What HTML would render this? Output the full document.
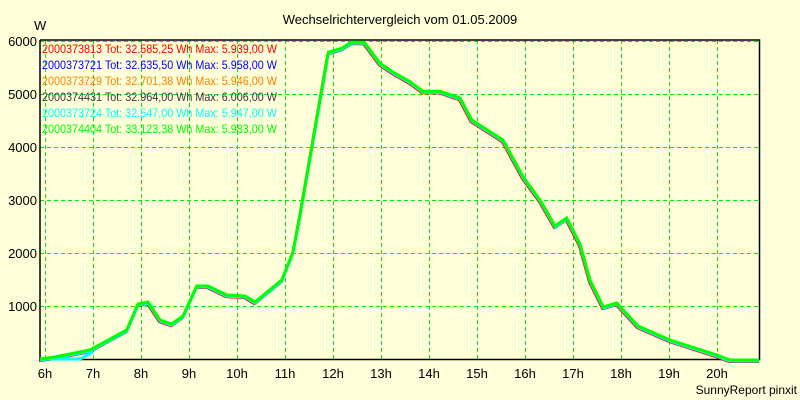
<!DOCTYPE html>
<html><head><meta charset="utf-8"><style>
html,body{margin:0;padding:0;background:#ffffd9;}
svg{display:block;font-family:"Liberation Sans",Arial,sans-serif;}
</style></head><body>
<svg width="800" height="400" viewBox="0 0 800 400" xmlns="http://www.w3.org/2000/svg">
<rect width="800" height="400" fill="#ffffd9"/>
<text x="400" y="24" font-size="13" text-anchor="middle" fill="#000">Wechselrichtervergleich vom 01.05.2009</text>
<text x="34" y="30" font-size="13" fill="#000">W</text>
<g stroke="#00ee00" stroke-width="1" stroke-dasharray="4,3" fill="none">
<line x1="40" y1="41.5" x2="759" y2="41.5"/>
<line x1="40" y1="94.5" x2="759" y2="94.5"/>
<line x1="40" y1="147.5" x2="759" y2="147.5"/>
<line x1="40" y1="200.5" x2="759" y2="200.5"/>
<line x1="40" y1="253.5" x2="759" y2="253.5"/>
<line x1="40" y1="306.5" x2="759" y2="306.5"/>
<line x1="45.5" y1="40" x2="45.5" y2="359"/>
<line x1="93.5" y1="40" x2="93.5" y2="359"/>
<line x1="141.5" y1="40" x2="141.5" y2="359"/>
<line x1="189.5" y1="40" x2="189.5" y2="359"/>
<line x1="237.5" y1="40" x2="237.5" y2="359"/>
<line x1="285.5" y1="40" x2="285.5" y2="359"/>
<line x1="333.5" y1="40" x2="333.5" y2="359"/>
<line x1="381.5" y1="40" x2="381.5" y2="359"/>
<line x1="429.5" y1="40" x2="429.5" y2="359"/>
<line x1="477.5" y1="40" x2="477.5" y2="359"/>
<line x1="525.5" y1="40" x2="525.5" y2="359"/>
<line x1="573.5" y1="40" x2="573.5" y2="359"/>
<line x1="621.5" y1="40" x2="621.5" y2="359"/>
<line x1="669.5" y1="40" x2="669.5" y2="359"/>
<line x1="717.5" y1="40" x2="717.5" y2="359"/>
</g>
<g stroke="#000" stroke-width="1.5" fill="none">
<polyline points="40,40 759.5,40 759.5,359.5 40,359.5 40,40"/>
</g>
<g font-size="13" fill="#000" text-anchor="end">
<text x="37" y="46">6000</text>
<text x="37" y="99">5000</text>
<text x="37" y="152">4000</text>
<text x="37" y="205">3000</text>
<text x="37" y="258">2000</text>
<text x="37" y="311">1000</text>
</g>
<g font-size="13" fill="#000" text-anchor="middle">
<text x="45" y="378">6h</text><text x="93" y="378">7h</text><text x="141" y="378">8h</text>
<text x="189" y="378">9h</text><text x="237" y="378">10h</text><text x="285" y="378">11h</text>
<text x="333" y="378">12h</text><text x="381" y="378">13h</text><text x="429" y="378">14h</text>
<text x="477" y="378">15h</text><text x="525" y="378">16h</text><text x="573" y="378">17h</text>
<text x="621" y="378">18h</text><text x="669" y="378">19h</text><text x="717" y="378">20h</text>
</g>
<text x="797" y="394" font-size="12" text-anchor="end" fill="#000">SunnyReport pinxit</text>
<defs>
<polyline id="c" points="40,359 55,357 90,350 126.7,330 138,304 148,302 160,320 171.7,324 183,316 196.7,286 208,286 226.7,295 245,296 255,302 281.7,280 293,252 300,215 328.3,52.3 341.7,48.3 351.7,42 364.3,42.3 380,63.3 393,72 410,81.7 423,91.3 440,91.3 460,98 471.7,120 503,140 523,176.7 540,200 555,226 566.7,218 580,244 590,280 603.3,307 616.7,303 638,326 670,340 716.7,355 730,360 759,360" fill="none"/>
</defs>
<use href="#c" stroke="#403040" stroke-width="2" transform="translate(0,2)"/>
<use href="#c" stroke="#ff0000" stroke-width="2" transform="translate(-1,2)"/>
<use href="#c" stroke="#ff8000" stroke-width="2" transform="translate(0,1.5)"/>
<use href="#c" stroke="#0000ff" stroke-width="2" transform="translate(0,1)"/>
<use href="#c" stroke="#00ffff" stroke-width="3" transform="translate(0,1)"/>
<polyline points="40,359 80,359 93,352" stroke="#00ffff" stroke-width="3" fill="none"/>
<use href="#c" stroke="#00ff00" stroke-width="3"/>
<g font-size="12">
<text x="42" y="53" fill="#ff0000" textLength="235" lengthAdjust="spacingAndGlyphs">2000373813 Tot: 32.585,25 Wh Max: 5.939,00 W</text>
<text x="42" y="69" fill="#0000ff" textLength="235" lengthAdjust="spacingAndGlyphs">2000373721 Tot: 32.635,50 Wh Max: 5.958,00 W</text>
<text x="42" y="85" fill="#ff8000" textLength="235" lengthAdjust="spacingAndGlyphs">2000373729 Tot: 32.701,38 Wh Max: 5.946,00 W</text>
<text x="42" y="101" fill="#403040" textLength="235" lengthAdjust="spacingAndGlyphs">2000374431 Tot: 32.964,00 Wh Max: 6.006,00 W</text>
<text x="42" y="117" fill="#00ffff" textLength="235" lengthAdjust="spacingAndGlyphs">2000373724 Tot: 32.547,00 Wh Max: 5.947,00 W</text>
<text x="42" y="133" fill="#00ff00" textLength="235" lengthAdjust="spacingAndGlyphs">2000374404 Tot: 33.123,38 Wh Max: 5.983,00 W</text>
</g>
</svg>
</body></html>
